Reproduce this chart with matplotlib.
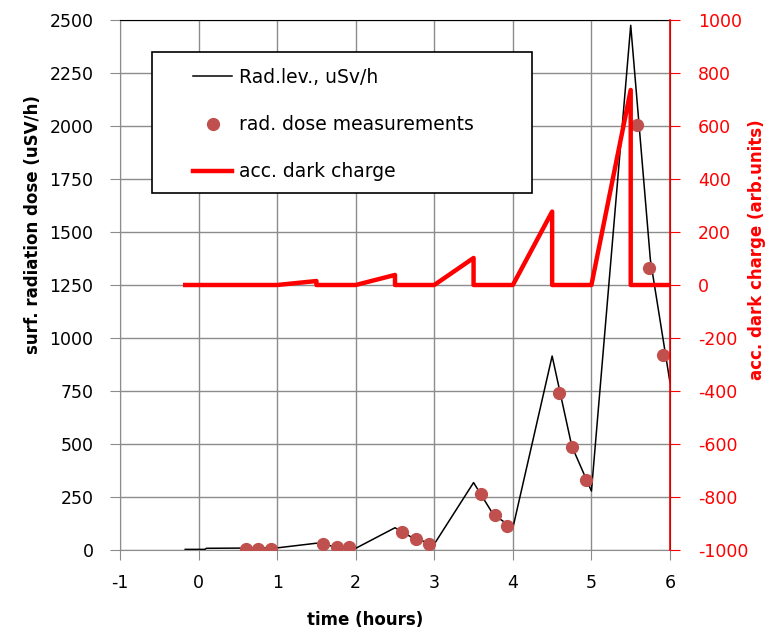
import numpy as np
import matplotlib.pyplot as plt
from matplotlib.patches import Rectangle

plt.rcParams["axes.unicode_minus"] = False

# black model line (left axis, uSv/h)
t_line = [-0.17, 0.08, 0.1, 1.0, 1.5, 1.75, 2.0, 2.5, 2.75, 3.0, 3.5, 3.75, 4.0,
          4.5, 4.75, 5.0, 5.5, 5.75, 6.0]
v_line = [3, 3, 8, 10, 32, 15, 8, 105, 52, 28, 318, 168, 104,
          915, 490, 278, 2475, 1370, 790]

# measured doses (left axis)
t_meas = [0.6, 0.76, 0.92, 1.58, 1.76, 1.92, 2.59, 2.77, 2.93, 3.59, 3.77, 3.93,
          4.59, 4.75, 4.93, 5.58, 5.73, 5.91]
v_meas = [6, 6, 6, 28, 12, 12, 85, 52, 30, 264, 165, 113,
          740, 486, 330, 2006, 1331, 920]

# accumulated dark charge (right axis)
t_charge = [-0.17, 1.0, 1.5, 1.5, 2.0, 2.5, 2.5, 3.0, 3.5, 3.5, 4.0, 4.5, 4.5,
            5.0, 5.5, 5.5, 6.0]
v_charge = [0, 0, 15, 0, 0, 38, 0, 0, 102, 0, 0, 277, 0, 0, 736, 0, 0]

x_ticks = [-1, 0, 1, 2, 3, 4, 5, 6]
y_ticks = np.arange(0, 2501, 250)
y2_ticks = np.arange(-1000, 1001, 200)

W, H = 777, 634
fig = plt.figure(figsize=(W / 100, H / 100), dpi=100)
ax = fig.add_axes([120 / W, 1 - 550 / H, 550 / W, 530 / H])
ax2 = ax.twinx()

grid_c = "#8c8c8c"
red = "#ff0000"

l1, = ax.plot(t_line, v_line, color="black", lw=1.1, zorder=3, label="Rad.lev., uSv/h")
l2, = ax.plot(t_meas, v_meas, "o", color="#c0504d", ms=8.5, zorder=4,
              label="rad. dose measurements")
l3, = ax2.plot(t_charge, v_charge, color=red, lw=3.2, label="acc. dark charge")

ax.set_xlim(-1, 6)
ax.set_ylim(0, 2500)
ax2.set_ylim(-1000, 1000)
ax.set_xticks(x_ticks)
ax.set_yticks(y_ticks)
ax2.set_yticks(y2_ticks)
ax.grid(True, color=grid_c, lw=1.0)
ax.set_axisbelow(True)

ax.tick_params(axis="both", colors="black", labelsize=12.5, length=7, color=grid_c)
ax.tick_params(axis="y", pad=12)
ax.tick_params(axis="x", pad=10)
ax2.tick_params(axis="y", colors=red, labelsize=12.5, length=7, pad=13)

for s in ["left", "bottom"]:
    ax.spines[s].set_color(grid_c)
ax.spines["top"].set_color("black")
ax2.spines["right"].set_color(red)
ax2.spines["right"].set_linewidth(1.2)
for s in ["left", "bottom", "top"]:
    ax2.spines[s].set_visible(False)

fig.text(33 / W, 1 - 225 / H, "surf. radiation dose (uSV/h)", rotation=90,
         ha="center", va="center", fontsize=12, fontweight="bold")
fig.text(757 / W, 1 - 250 / H, "acc. dark charge (arb.units)", rotation=90,
         ha="center", va="center", fontsize=12, fontweight="bold", color=red)
fig.text(365 / W, 1 - 620 / H, "time (hours)", ha="center", va="center",
         fontsize=12, fontweight="bold")

# legend box
fig.patches.append(Rectangle((152 / W, 1 - 193 / H), 380 / W, 141 / H,
                             transform=fig.transFigure, facecolor="white",
                             edgecolor="black", lw=1.2, zorder=5))
leg = fig.legend(handles=[l1, l2, l3], loc="upper left",
                 bbox_to_anchor=(193 / W, 1 - 68 / H), frameon=False,
                 fontsize=13.5, borderpad=0, borderaxespad=0, handlelength=2.1,
                 handletextpad=0.35, labelspacing=1.5)
leg.set_zorder(6)

fig.savefig("out.png", dpi=100)
